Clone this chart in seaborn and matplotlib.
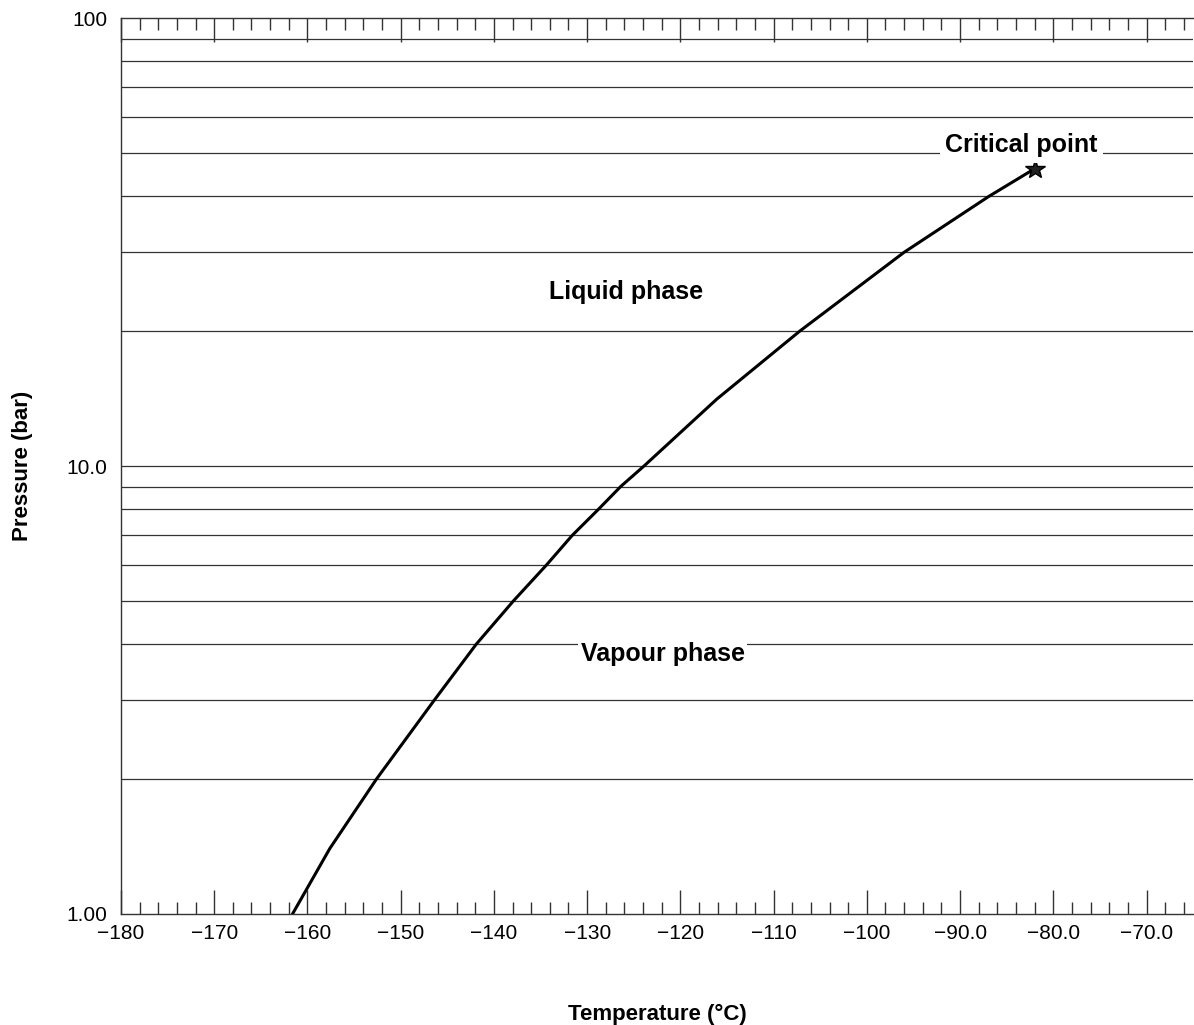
import matplotlib
matplotlib.use("Agg")
import matplotlib.pyplot as plt
import numpy as np
import pandas as pd
import seaborn as sns
from matplotlib.ticker import FixedLocator, NullFormatter

# ---------------------------------------------------------------------------
# Data — vapour pressure curve (gridline crossings)
# ---------------------------------------------------------------------------
temperature_c = [-161.6, -157.6, -152.6, -146.4, -141.9, -137.9, -134.4, -131.6,
                 -128.8, -126.4, -123.9, -116.1, -107.2, -96.0, -86.9, -82.0]
pressure_bar = [1.00, 1.40, 2.00, 3.00, 4.00, 5.00, 6.00, 7.00,
                8.00, 9.00, 10.0, 14.1, 20.0, 30.0, 40.0, 46.1]

critical_t = -82.0
critical_p = 46.1

x_major = [-180, -170, -160, -150, -140, -130, -120, -110, -100, -90, -80, -70]
x_labels = ["\u2212180", "\u2212170", "\u2212160", "\u2212150", "\u2212140", "\u2212130",
            "\u2212120", "\u2212110", "\u2212100", "\u221290.0", "\u221280.0", "\u221270.0"]
y_major = [1, 10, 100]
y_labels = ["1.00", "10.0", "100"]

phase_labels = ["Liquid phase", "Vapour phase"]
phase_t = [-125.8, -121.9]
phase_p = [24.4, 3.80]

curve = pd.DataFrame({"T": temperature_c, "P": pressure_bar})

sns.set_style("white")
plt.rcParams["font.family"] = ["Liberation Sans", "DejaVu Sans"]
plt.rcParams["text.color"] = "black"
plt.rcParams["axes.labelcolor"] = "black"
plt.rcParams["xtick.labelcolor"] = "black"
plt.rcParams["ytick.labelcolor"] = "black"

fig = plt.figure(figsize=(11.94, 10.25), dpi=100)
ax = fig.add_axes([0.1013, 0.1083, 0.898, 0.8741])

ax.set_yscale("log")
ax.set_xlim(-180, -65)
ax.set_ylim(1, 100)

# horizontal grid at every log minor step
grid_vals = [m * 10 ** d for d in (0, 1) for m in range(2, 10)] + [10]
for g in grid_vals:
    ax.axhline(g, color="#333333", lw=0.9, zorder=1)

sns.lineplot(data=curve, x="T", y="P", ax=ax, color="black", lw=2.2,
             sort=False, estimator=None, zorder=3)
ax.plot([critical_t], [critical_p], marker="*", color="black", ms=15,
        mfc="#222222", zorder=4)

for lab, t, p in zip(phase_labels, phase_t, phase_p):
    ax.text(t, p, lab, ha="center", va="center", fontsize=18, fontweight="bold",
            bbox=dict(facecolor="white", edgecolor="none", pad=2), zorder=5)
ax.text(-83.4, 52.0, "Critical point", ha="center", va="center", fontsize=18,
        fontweight="bold", bbox=dict(facecolor="white", edgecolor="none", pad=4),
        zorder=5)

# ticks
ax.xaxis.set_major_locator(FixedLocator(x_major))
ax.set_xticklabels(x_labels)
ax.xaxis.set_minor_locator(FixedLocator(np.arange(-180, -64, 2)))
ax.tick_params(axis="x", which="major", direction="in", length=17, width=1,
               color="#333333", top=True, bottom=True, labelsize=15, pad=7)
ax.tick_params(axis="x", which="minor", direction="in", length=8.5, width=1,
               color="#333333", top=True, bottom=True)

ax.yaxis.set_major_locator(FixedLocator(y_major))
ax.set_yticklabels(y_labels)
ax.yaxis.set_minor_formatter(NullFormatter())
ax.tick_params(axis="y", which="both", length=0, labelsize=15, pad=10)

for side in ("left", "top", "bottom"):
    ax.spines[side].set_color("#333333")
    ax.spines[side].set_linewidth(1)
ax.spines["right"].set_visible(False)

ax.set_xlabel("Temperature (\u00b0C)", fontsize=16, fontweight="bold", labelpad=44)
ax.set_ylabel("Pressure (bar)", fontsize=16, fontweight="bold", labelpad=24)

fig.savefig("out.png", dpi=100)
